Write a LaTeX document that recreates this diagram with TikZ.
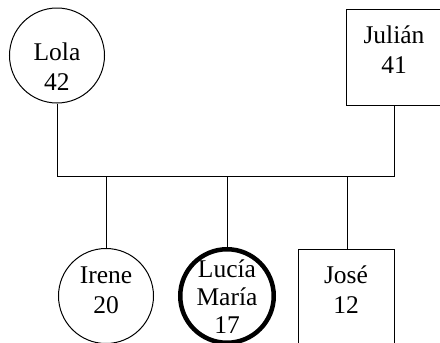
\documentclass[tikz,border=0pt]{standalone}
\usepackage{fontspec}
\setmainfont{Liberation Serif}
\begin{document}
\begin{tikzpicture}[x=1pt,y=-1pt,
  person/.style={draw=black,line width=1pt,inner sep=0pt},
  female/.style={person,circle,minimum size=95pt},
  male/.style={person,rectangle,minimum width=96pt,minimum height=96pt},
  lbl/.style={inner sep=0pt,anchor=base,font=\fontsize{25.5}{30}\selectfont},
  link/.style={draw=black,line width=1pt}]
\useasboundingbox (0,0) rectangle (440,343);
% parents
\node[female] (lola) at (57,55.5) {};
\node[male,minimum width=104pt] (julian) at (398,57) {};
% children
\node[female] (irene) at (106,296) {};
\node[female,line width=4.5pt,minimum size=93.5pt] (lucia) at (227,296) {};
\node[male] (jose) at (346,297) {};
% labels
\node[lbl] (tlola1) at (57,60) {Lola};
\node[lbl] (tlola2) at (57,90) {42};
\node[lbl] (tjul1) at (394,43) {Julián};
\node[lbl] (tjul2) at (394,73) {41};
\node[lbl] (tire1) at (106,283) {Irene};
\node[lbl] (tire2) at (106,313) {20};
\node[lbl] (tluc1) at (227,277) {Lucía};
\node[lbl] (tluc2) at (227,305) {María};
\node[lbl] (tluc3) at (227,333) {17};
\node[lbl] (tjose1) at (346,283) {José};
\node[lbl] (tjose2) at (346,313) {12};
% connectors
\coordinate (bar) at (0,176);
\draw[link] (lola.south) -- (lola.south |- bar) -- ([xshift=-4pt]julian.south |- bar) -- ([xshift=-4pt]julian.south);
\draw[link] (irene.north |- bar) -- (irene.north);
\draw[link] (lucia.north |- bar) -- (lucia.north);
\draw[link] ([xshift=1pt]jose.north |- bar) -- ([xshift=1pt]jose.north);
\end{tikzpicture}
\end{document}
